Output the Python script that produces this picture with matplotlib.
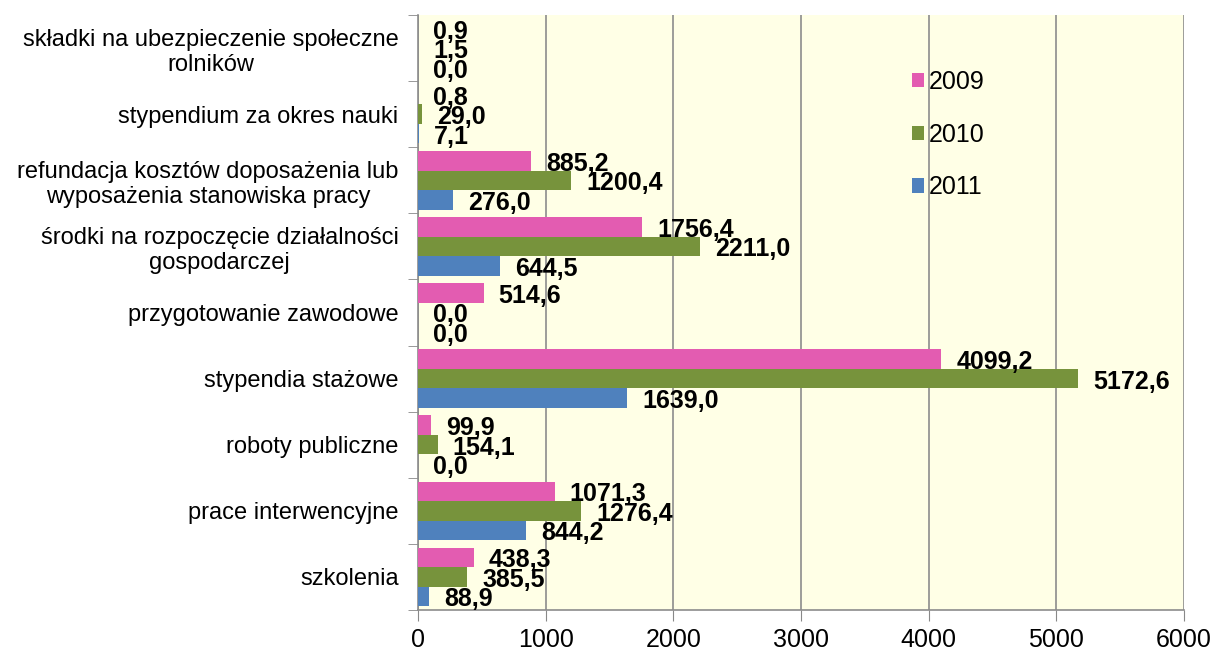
import matplotlib
matplotlib.use("Agg")
import matplotlib.pyplot as plt
from matplotlib.patches import Patch
import numpy as np

plt.rcParams['font.family'] = ['Liberation Sans', 'DejaVu Sans']

categories = [
    "składki na ubezpieczenie społeczne\nrolników",
    "stypendium za okres nauki",
    "refundacja kosztów doposażenia lub\nwyposażenia stanowiska pracy",
    "środki na rozpoczęcie działalności\ngospodarczej",
    "przygotowanie zawodowe",
    "stypendia stażowe",
    "roboty publiczne",
    "prace interwencyjne",
    "szkolenia",
]
series_names = ["2009", "2010", "2011"]
values_2009 = [0.9, 0.8, 885.2, 1756.4, 514.6, 4099.2, 99.9, 1071.3, 438.3]
values_2010 = [1.5, 29.0, 1200.4, 2211.0, 0.0, 5172.6, 154.1, 1276.4, 385.5]
values_2011 = [0.0, 7.1, 276.0, 644.5, 0.0, 1639.0, 0.0, 844.2, 88.9]
x_ticks = [0, 1000, 2000, 3000, 4000, 5000, 6000]

colors = ["#E35CB1", "#77933C", "#4F81BD"]
series = [values_2009, values_2010, values_2011]

fig = plt.figure(figsize=(12.17, 6.53), dpi=100)
ax = fig.add_axes([0.3435, 0.066, 0.6294, 0.911])
ax.set_facecolor("#FFFFE6")

n = len(categories)
y = np.arange(n)[::-1].astype(float)  # top category at highest y
bh = 0.295
offsets = [-bh, 0, bh]
for vals, col, off, name in zip(series, colors, offsets, series_names):
    ypos = y - off
    ax.barh(ypos, vals, height=bh, color=col, zorder=3, label=name)
    for yy, v in zip(ypos, vals):
        ax.annotate(f"{v:.1f}".replace(".", ","), xy=(v, yy), xytext=(15, -3),
                    textcoords="offset pixels",
                    ha="left", va="center", fontsize=18, fontweight="bold",
                    color="black", zorder=5)

ax.set_xlim(0, 6000)
ax.set_ylim(-0.5, n - 0.5)
ax.set_xticks(x_ticks)
ax.set_xticklabels([str(t) for t in x_ticks], fontsize=18)
ax.set_yticks(y)
ax.set_yticklabels(categories, fontsize=17)
for lbl in ax.get_yticklabels():
    lbl.set_multialignment("center")
ax.set_yticks(np.arange(-0.5, n, 1.0), minor=True)
ax.tick_params(axis="y", which="major", length=0, pad=14)
ax.tick_params(axis="y", which="minor", length=7, color="#888888", direction="out")
ax.tick_params(axis="x", which="major", length=8, color="#888888", pad=5)

ax.grid(axis="x", color="#8C8C8C", linewidth=1.2, zorder=0)
for s in ["top", "right"]:
    ax.spines[s].set_visible(False)
for s in ["left", "bottom"]:
    ax.spines[s].set_color("#8C8C8C")
    ax.spines[s].set_linewidth(1.2)

handles = [Patch(facecolor=c, edgecolor="none") for c in colors]
fig.legend(handles, series_names, loc="upper left", bbox_to_anchor=(0.749, 0.893),
           frameon=False, fontsize=18, handlelength=0.5, handleheight=0.5,
           handletextpad=0.2, labelspacing=1.15, borderpad=0, borderaxespad=0)

fig.savefig("out.png", dpi=100)
